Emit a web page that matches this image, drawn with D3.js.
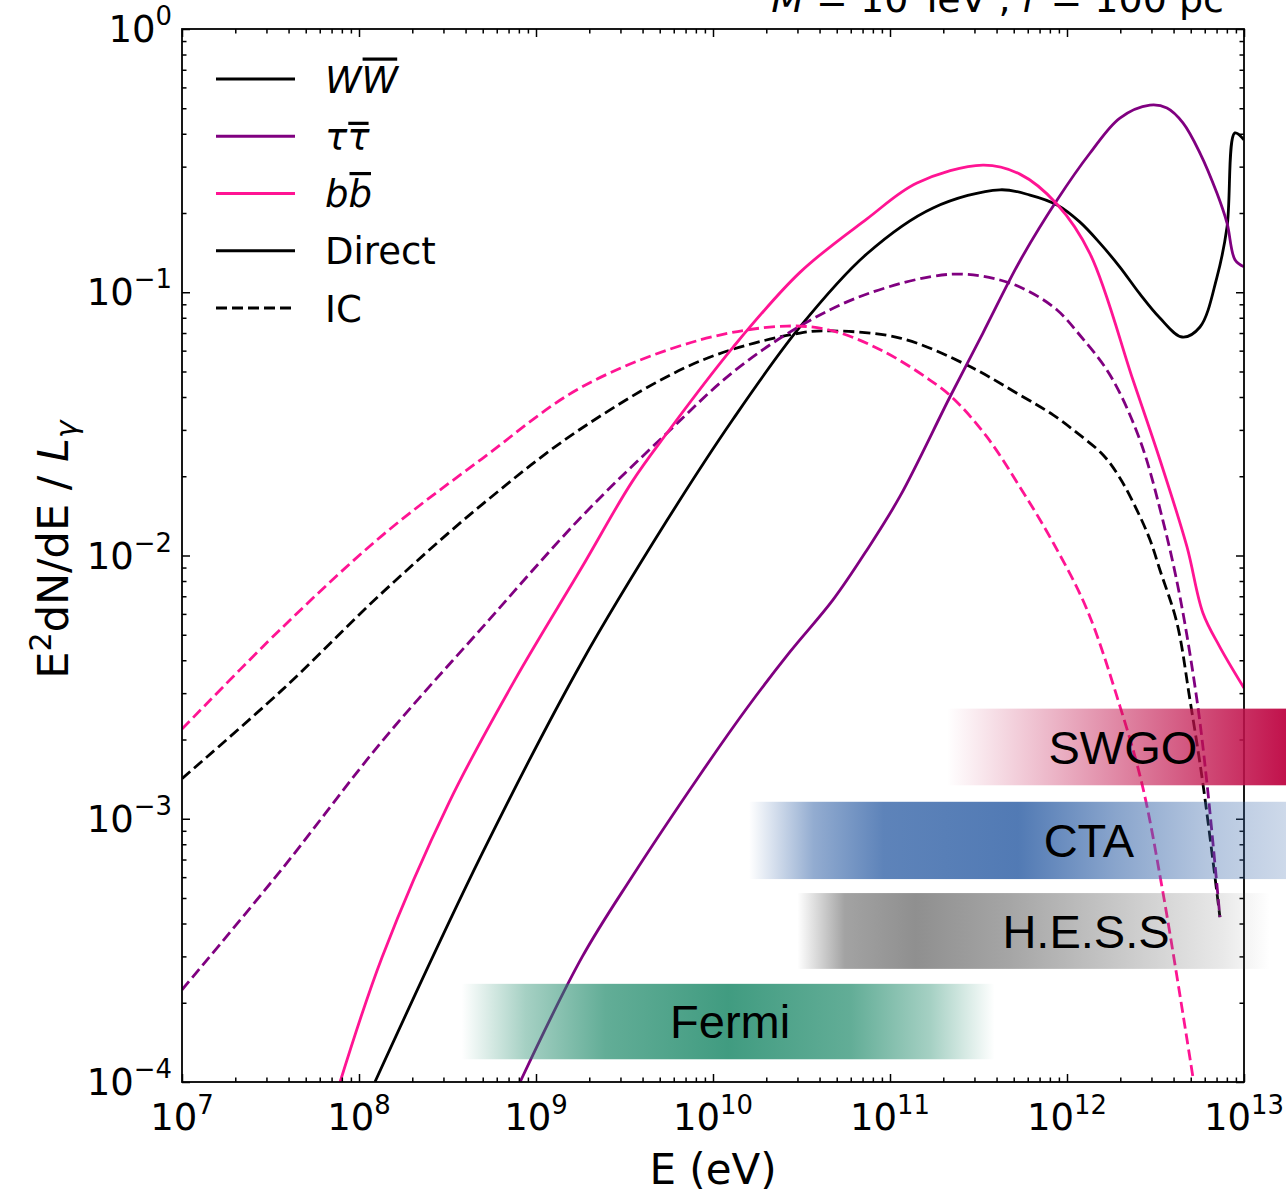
<!DOCTYPE html>
<html>
<head>
<meta charset="utf-8">
<script src="https://cdn.jsdelivr.net/npm/d3@7"></script>
<style>
  body { margin: 0; background: #fff; }
  svg { display: block; }
</style>
</head>
<body>
<svg id="chart" width="1286" height="1195"></svg>
<script>
// ---------------- spectra: E (eV) and E^2 dN/dE / L_gamma ----------------
// W W-bar, direct emission
const wwDirectE = [1.23e8, 4.95e8, 1.82e9, 5.50e9, 1.30e10, 3.10e10, 7.41e10, 1.75e11, 4.18e11, 6.18e11,
                   8.79e11, 1.18e12, 1.53e12, 1.99e12, 2.58e12, 3.35e12, 4.47e12, 5.64e12, 7.03e12, 8.02e12, 8.89e12, 1.0e13];
const wwDirect  = [1.0e-4, 7.35e-4, 3.95e-3, 1.36e-2, 3.30e-2, 7.38e-2, 0.140, 0.209, 0.245, 0.234,
                   0.2145, 0.185, 0.154, 0.1246, 9.85e-2, 7.98e-2, 6.76e-2, 7.38e-2, 0.114, 0.177, 0.403, 0.379];
// W W-bar, inverse Compton
const wwIcE = [1.0e7, 3.67e7, 1.35e8, 4.95e8, 1.82e9, 8.45e9, 3.10e10, 4.76e10, 1.14e11, 2.72e11,
               5.42e11, 8.34e11, 1.18e12, 1.60e12, 1.99e12, 2.48e12, 2.94e12, 3.35e12, 4.18e12, 4.95e12, 5.86e12, 7.31e12];
const wwIc  = [1.42e-3, 3.08e-3, 7.21e-3, 1.56e-2, 3.05e-2, 5.48e-2, 7.00e-2, 7.13e-2, 6.70e-2, 5.29e-2,
               4.07e-2, 3.42e-2, 2.87e-2, 2.41e-2, 1.97e-2, 1.49e-2, 1.15e-2, 8.81e-3, 5.54e-3, 2.83e-3, 1.36e-3, 4.23e-4];
// tau tau-bar, direct emission
const tauDirectE = [8.13e8, 1.82e9, 3.48e9, 8.45e9, 1.56e10, 2.72e10, 4.76e10, 7.41e10, 1.14e11, 2.18e11, 3.35e11, 5.42e11,
                    8.79e11, 1.35e12, 1.99e12, 2.94e12, 3.67e12, 4.52e12, 5.64e12, 7.03e12, 8.02e12, 8.89e12, 1.0e13];
const tauDirect  = [1.0e-4, 2.98e-4, 6.01e-4, 1.47e-3, 2.64e-3, 4.30e-3, 6.78e-3, 1.05e-2, 1.68e-2, 4.00e-2, 7.00e-2, 0.1315,
                    0.224, 0.338, 0.459, 0.514, 0.501, 0.440, 0.338, 0.238, 0.183, 0.133, 0.125];
// tau tau-bar, inverse Compton
const tauIcE = [1.0e7, 3.67e7, 1.35e8, 4.95e8, 1.82e9, 5.50e9, 1.30e10, 3.10e10, 7.41e10, 2.18e11,
                4.18e11, 6.18e11, 8.79e11, 1.18e12, 1.75e12, 2.58e12, 3.48e12, 4.35e12, 5.42e12, 6.18e12, 7.31e12];
const tauIc  = [2.24e-4, 6.44e-4, 1.97e-3, 5.31e-3, 1.41e-2, 2.92e-2, 4.98e-2, 7.44e-2, 9.85e-2, 0.117,
                0.1113, 0.1002, 8.56e-2, 6.88e-2, 4.85e-2, 2.75e-2, 1.36e-2, 6.95e-3, 2.83e-3, 1.36e-3, 4.23e-4];
// b b-bar, direct emission
const bbDirectE = [7.82e7, 1.35e8, 3.22e8, 7.60e8, 1.82e9, 3.48e9, 5.50e9, 1.30e10, 3.10e10, 7.41e10,
                   1.42e11, 3.35e11, 5.42e11, 8.79e11, 1.35e12, 2.36e12, 3.35e12, 4.76e12, 5.86e12, 7.31e12, 1.0e13];
const bbDirect  = [1.0e-4, 2.98e-4, 1.15e-3, 3.37e-3, 9.04e-3, 1.90e-2, 2.92e-2, 6.19e-2, 0.119, 0.190,
                   0.260, 0.304, 0.281, 0.216, 0.140, 4.64e-2, 2.31e-2, 1.08e-2, 6.05e-3, 4.49e-3, 3.14e-3];
// b b-bar, inverse Compton
const bbIcE = [1.0e7, 3.67e7, 1.35e8, 4.95e8, 1.82e9, 8.45e9, 2.62e10, 4.76e10, 9.12e10, 1.68e11,
               2.27e11, 3.53e11, 5.42e11, 8.34e11, 1.30e12, 1.99e12, 2.65e12, 3.48e12, 5.15e12];
const bbIc  = [2.19e-3, 5.31e-3, 1.19e-2, 2.33e-2, 4.37e-2, 6.59e-2, 7.44e-2, 7.13e-2, 5.98e-2, 4.64e-2,
               3.96e-2, 2.82e-2, 1.82e-2, 1.12e-2, 6.21e-3, 2.68e-3, 1.36e-3, 5.27e-4, 1.04e-4];

// ---------------- instrument sensitivity bands ----------------
const instruments = ["Fermi", "H.E.S.S", "CTA", "SWGO"];
const instEmin    = [3.8e8, 3.0e10, 1.6e10, 2.1e11];
const instEmax    = [3.9e11, 1.4e13, 1.75e13, 1.75e13];
const instLow     = [1.22e-4, 2.69e-4, 5.9e-4, 1.34e-3];
const instHigh    = [2.36e-4, 5.22e-4, 1.16e-3, 2.62e-3];
const instLabelE  = [1.25e10, 1.28e12, 1.33e12, 2.07e12];

// ---------------- axes ticks ----------------
const xMajor = [1e7, 1e8, 1e9, 1e10, 1e11, 1e12, 1e13];
const xExp   = [7, 8, 9, 10, 11, 12, 13];
const yMajor = [1e-4, 1e-3, 1e-2, 1e-1, 1];
const yExp   = ["\u22124", "\u22123", "\u22122", "\u22121", "0"];

// ---------------- setup ----------------
const svg = d3.select("#chart");
const FONT = "'DejaVu Sans', sans-serif";
const PINK = "#ff1493", PURPLE = "#800080", BLACK = "#000000";

const x = d3.scaleLog().domain([1e7, 1e13]).range([182, 1244]);
const y = d3.scaleLog().domain([1e-4, 1]).range([1082, 29]);
const [x0, x1] = x.range();
const [y0, y1] = y.range();

const defs = svg.append("defs");
defs.append("clipPath").attr("id", "plotClip")
  .append("rect").attr("x", x0).attr("y", y1).attr("width", x1 - x0).attr("height", y0 - y1);

// ---------------- curves ----------------
const zip = (E, V) => E.map((e, i) => [e, V[i]]);
const line = d3.line().x(d => x(d[0])).y(d => y(d[1])).curve(d3.curveCatmullRom.alpha(0.5));

const curves = [
  { data: zip(wwDirectE, wwDirect),   color: BLACK,  dashed: false },
  { data: zip(wwIcE, wwIc),           color: BLACK,  dashed: true  },
  { data: zip(tauDirectE, tauDirect), color: PURPLE, dashed: false },
  { data: zip(tauIcE, tauIc),         color: PURPLE, dashed: true  },
  { data: zip(bbDirectE, bbDirect),   color: PINK,   dashed: false },
  { data: zip(bbIcE, bbIc),           color: PINK,   dashed: true  }
];

const plot = svg.append("g").attr("clip-path", "url(#plotClip)");
plot.selectAll("path.curve").data(curves).join("path")
  .attr("class", "curve")
  .attr("d", d => line(d.data))
  .attr("fill", "none")
  .attr("stroke", d => d.color)
  .attr("stroke-width", 2.8)
  .attr("stroke-dasharray", d => d.dashed ? "11,5" : null)
  .attr("stroke-linejoin", "round");

// ---------------- ticks (inward, all four sides) ----------------
const minorOf = (majors) => {
  const out = [];
  for (let i = 0; i < majors.length - 1; i++)
    for (let k = 2; k <= 9; k++) out.push(majors[i] * k);
  return out;
};
const xMinor = minorOf(xMajor);
const yMinor = minorOf(yMajor);

function tickLayer(axisGen, tx, ty) {
  const g = svg.append("g").attr("transform", `translate(${tx},${ty})`).call(axisGen);
  g.select(".domain").remove();
  g.selectAll("text").remove();
  g.selectAll("line").attr("stroke", "#000").attr("stroke-width", 1.5);
  return g;
}
const MAJ = 8, MIN = 4.5;
[[xMajor, MAJ], [xMinor, MIN]].forEach(([vals, len]) => {
  tickLayer(d3.axisBottom(x).tickValues(vals).tickSizeInner(-len).tickSizeOuter(0).tickFormat(""), 0, y0);
  tickLayer(d3.axisTop(x).tickValues(vals).tickSizeInner(-len).tickSizeOuter(0).tickFormat(""), 0, y1);
});
[[yMajor, MAJ], [yMinor, MIN]].forEach(([vals, len]) => {
  tickLayer(d3.axisLeft(y).tickValues(vals).tickSizeInner(-len).tickSizeOuter(0).tickFormat(""), x0, 0);
  tickLayer(d3.axisRight(y).tickValues(vals).tickSizeInner(-len).tickSizeOuter(0).tickFormat(""), x1, 0);
});

// frame
svg.append("rect")
  .attr("x", x0).attr("y", y1).attr("width", x1 - x0).attr("height", y0 - y1)
  .attr("fill", "none").attr("stroke", "#000").attr("stroke-width", 1.8);

// ---------------- tick labels ----------------
const TICK_FS = 37;
const xl = svg.append("g").attr("font-family", FONT).attr("font-size", TICK_FS).attr("fill", "#000");
xMajor.forEach((v, i) => {
  const t = xl.append("text").attr("x", x(v)).attr("y", 1130).attr("text-anchor", "middle");
  t.append("tspan").text("10");
  t.append("tspan").attr("dy", -16).attr("font-size", TICK_FS * 0.7).text(xExp[i]);
});
const yl = svg.append("g").attr("font-family", FONT).attr("font-size", TICK_FS).attr("fill", "#000");
yMajor.forEach((v, i) => {
  const t = yl.append("text").attr("x", 172).attr("y", y(v) + 13).attr("text-anchor", "end");
  t.append("tspan").text("10");
  t.append("tspan").attr("dy", -17).attr("font-size", TICK_FS * 0.7).text(yExp[i]);
});

// ---------------- axis labels ----------------
const LAB_FS = 42;
svg.append("text")
  .attr("x", (x0 + x1) / 2).attr("y", 1184)
  .attr("text-anchor", "middle").attr("font-family", FONT).attr("font-size", LAB_FS)
  .text("E (eV)");

const ylab = svg.append("text")
  .attr("transform", `translate(68,${(y0 + y1) / 2 - 6}) rotate(-90)`)
  .attr("text-anchor", "middle").attr("font-family", FONT).attr("font-size", 43);
ylab.append("tspan").text("E");
ylab.append("tspan").attr("dy", -17).attr("font-size", 43 * 0.7).text("2");
ylab.append("tspan").attr("dy", 17).text("dN/dE / ");
ylab.append("tspan").attr("font-style", "italic").text("L");
ylab.append("tspan").attr("dy", 9).attr("font-style", "italic").attr("font-size", 43 * 0.7).text("\u03b3");

// ---------------- title ----------------
const title = svg.append("text")
  .attr("x", 1224).attr("y", 12).attr("text-anchor", "end")
  .attr("font-family", FONT).attr("font-size", 38);
title.append("tspan").attr("font-style", "italic").text("M");
title.append("tspan").text(" = 10 TeV , ");
title.append("tspan").attr("font-style", "italic").text("r");
title.append("tspan").text(" = 100 pc");

// ---------------- legend ----------------
const LEG_FS = 37;
const legendItems = [
  { parts: ["W", "W"], italic: true, bar: 35, color: BLACK, dashed: false },
  { parts: ["\u03c4", "\u03c4"], italic: true, bar: 28, color: PURPLE, dashed: false },
  { parts: ["b", "b"], italic: true, bar: 35, color: PINK, dashed: false },
  { parts: ["Direct"], italic: false, color: BLACK, dashed: false },
  { parts: ["IC"], italic: false, color: BLACK, dashed: true }
];
const leg = svg.append("g").attr("font-family", FONT).attr("font-size", LEG_FS);
legendItems.forEach((it, i) => {
  const ly = 79 + i * 57.25;
  leg.append("line")
    .attr("x1", 216).attr("x2", 295).attr("y1", ly).attr("y2", ly)
    .attr("stroke", it.color).attr("stroke-width", 3)
    .attr("stroke-dasharray", it.dashed ? "11,5" : null);
  const t = leg.append("text").attr("x", 325).attr("y", ly + 13.5)
    .attr("font-style", it.italic ? "italic" : null);
  it.parts.forEach(p => t.append("tspan").text(p));
  if (it.bar) {
    const ext = t.node().getExtentOfChar(1);
    leg.append("rect")
      .attr("x", ext.x + 1).attr("width", Math.max(0, ext.width - 2))
      .attr("y", ly + 13.5 - it.bar).attr("height", 3.2)
      .attr("fill", "#000");
  }
});

// ---------------- instrument bands ----------------
const bandStyle = {
  "SWGO":    { color: "#c1114b", stops: [[0, 0], [1, 1]] },
  "CTA":     { color: "#3a68aa", stops: [[0, 0], [0.12, 0.55], [0.25, 0.82], [0.5, 0.88], [0.68, 0.6], [0.85, 0.38], [1, 0.25]] },
  "H.E.S.S": { color: "#6a6a6a", stops: [[0, 0], [0.1, 0.62], [0.25, 0.75], [0.45, 0.6], [0.7, 0.35], [0.9, 0.15], [1, 0]] },
  "Fermi":   { color: "#1f8a6a", stops: [[0, 0], [0.12, 0.4], [0.27, 0.7], [0.5, 0.85], [0.73, 0.7], [0.88, 0.4], [1, 0]] }
};
instruments.forEach((name, i) => {
  const st = bandStyle[name];
  const gr = defs.append("linearGradient").attr("id", "band" + i)
    .attr("x1", 0).attr("x2", 1).attr("y1", 0).attr("y2", 0);
  st.stops.forEach(([o, a]) => gr.append("stop")
    .attr("offset", o).attr("stop-color", st.color).attr("stop-opacity", a));
});
const bands = svg.append("g");
instruments.forEach((name, i) => {
  bands.append("rect")
    .attr("x", x(instEmin[i])).attr("width", x(instEmax[i]) - x(instEmin[i]))
    .attr("y", y(instHigh[i])).attr("height", y(instLow[i]) - y(instHigh[i]))
    .attr("fill", `url(#band${i})`);
  bands.append("text")
    .attr("x", x(instLabelE[i]))
    .attr("y", (y(instHigh[i]) + y(instLow[i])) / 2)
    .attr("dy", "0.36em")
    .attr("text-anchor", "middle")
    .attr("font-family", "'Liberation Sans', Arial, sans-serif")
    .attr("font-size", 47)
    .attr("fill", "#000")
    .text(name);
});
</script>
</body>
</html>
